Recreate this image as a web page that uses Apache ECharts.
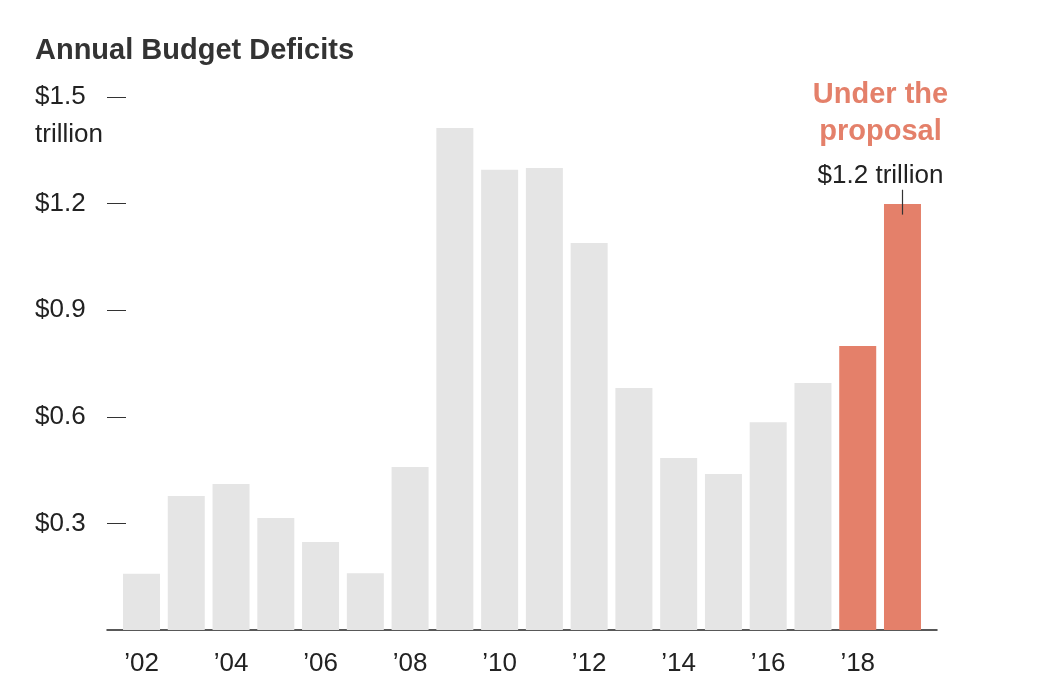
<!DOCTYPE html>
<html><head><meta charset="utf-8">
<script src="https://cdn.jsdelivr.net/npm/echarts@6/dist/echarts.min.js"></script>
<style>html,body{margin:0;padding:0;background:#fff}#c{width:1057px;height:688px}</style>
</head><body><div id="c"></div>
<script>
const years = [2002,2003,2004,2005,2006,2007,2008,2009,2010,2011,2012,2013,2014,2015,2016,2017,2018,2019];
const deficits = [0.158,0.377,0.411,0.315,0.248,0.160,0.459,1.413,1.295,1.300,1.089,0.681,0.484,0.439,0.585,0.695,0.799,1.199];
const proposalYears = [2018,2019];
const xTickYears = [2002,2004,2006,2008,2010,2012,2014,2016,2018];
const yTicks = [0.3,0.6,0.9,1.2,1.5];
const title = 'Annual Budget Deficits';
const annotation = {year: 2019, head: ['Under the','proposal'], value: '$1.2 trillion'};

const GRAY = '#e5e5e5', ORANGE = '#e4806a', TEXT = '#222';
const font = "'Liberation Sans', Arial, sans-serif";

const chart = echarts.init(document.getElementById('c'));
const data = years.map((y,i)=>{
  const isProp = proposalYears.includes(y);
  const d = {value:[y, deficits[i]], itemStyle:{color: isProp ? ORANGE : GRAY}};
  if (y === annotation.year) {
    d.label = {
      show:true, position:'top', distance:3, offset:[-22,0], align:'center',
      formatter: annotation.head.map(t=>'{o|'+t+'}').join('\n') + '\n{b|'+annotation.value+'}',
      rich:{
        o:{fontFamily:font, fontWeight:'bold', fontSize:29, color:ORANGE, lineHeight:37, align:'center'},
        b:{fontFamily:font, fontSize:26, color:TEXT, lineHeight:50, align:'center'}
      }
    };
  }
  return d;
});
const annIdx = years.indexOf(annotation.year);
const annVal = deficits[annIdx];

chart.setOption({
  animation:false,
  title:{text:title, left:30, top:31, textStyle:{fontFamily:font, fontWeight:'bold', fontSize:29, color:'#333'}},
  grid:{left:107, right:120, top:97, bottom:58},
  xAxis:{type:'value', min:years[0]-0.771, max:years[years.length-1]+0.771,
    axisLine:{show:true, lineStyle:{color:'#222', width:1.5}},
    axisTick:{show:false}, splitLine:{show:false},
    axisLabel:{customValues:xTickYears, margin:21, fontFamily:font, fontSize:26, color:TEXT,
      formatter:v=>'\u2019'+String(v).slice(2)}},
  yAxis:{type:'value', min:0, max:1.5, interval:0.3,
    axisLine:{show:false}, splitLine:{show:false},
    axisTick:{show:true, inside:true, length:19, lineStyle:{color:'#333', width:1}, customValues:yTicks},
    axisLabel:{customValues:yTicks, align:'left', margin:72, fontFamily:font, fontSize:26, color:TEXT, lineHeight:38,
      formatter:v=> v===1.5 ? ' \n$1.5\ntrillion' : '$'+v.toFixed(1)}},
  series:[{
    type:'bar', data:data, barWidth:37,
    markLine:{silent:true, symbol:'none', label:{show:false},
      lineStyle:{color:'#333', width:1.2, type:'solid'},
      data:[[{coord:[annotation.year, annVal+0.04]},{coord:[annotation.year, annVal-0.03]}]]}
  }]
});
</script></body></html>
